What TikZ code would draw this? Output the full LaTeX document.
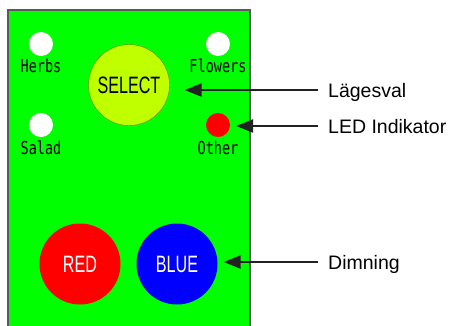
\documentclass[tikz,border=0pt]{standalone}
\usepackage{fontspec}
\setmainfont{Liberation Sans}
\newfontfamily\monofont[FakeStretch=0.76]{DejaVu Sans Mono}
\newfontfamily\narrowfont[FakeStretch=0.68]{Liberation Sans}
\usetikzlibrary{arrows.meta}
\definecolor{panelgreen}{RGB}{0,255,0}
\definecolor{paneledge}{RGB}{90,90,90}
\definecolor{selectyellow}{RGB}{191,255,0}
\definecolor{selectedge}{RGB}{110,130,0}
\definecolor{arrowgray}{RGB}{34,34,34}
\begin{document}
\begin{tikzpicture}[x=1pt,y=-1pt,
  led/.style={circle,fill=white,minimum size=24pt,inner sep=0pt},
  btn/.style={circle,minimum size=81pt,inner sep=0pt,font=\narrowfont\fontsize{23.7}{24}\selectfont},
  lbl/.style={font=\monofont\fontsize{17.8}{18}\selectfont,inner sep=0pt},
  note/.style={font=\fontsize{19.5}{20}\selectfont,anchor=west,inner sep=0pt,text height=14pt,text depth=0pt},
  arr/.style={draw=arrowgray,line width=2.5pt,-{Triangle[length=17pt,width=13pt]}}]
  \useasboundingbox (0,0) rectangle (450,325);
  \clip (0,0) rectangle (450,325);
  \draw[paneledge,line width=1.5pt,fill=panelgreen] (8,10) rectangle (250,340);
  \node (herbs) [led] at (41,44) {};
  \node (flowers) [led] at (218,44) {};
  \node (salad) [led] at (41,125) {};
  \node (other) [led,fill=red] at (218,125) {};
  \node (herbslbl) [lbl] at (41,66) {Herbs};
  \node (flowerslbl) [lbl] at (218,66) {Flowers};
  \node (saladlbl) [lbl] at (41,148) {Salad};
  \node (otherlbl) [lbl] at (218,148) {Other};
  \node (sel) [btn,fill=selectyellow,draw=selectedge,thin] at (129,85) {SELECT};
  \node (red) [btn,fill=red,text=white] at (80,264) {RED};
  \node (blue) [btn,fill=blue,text=white] at (177,264) {BLUE};
  \node (lages) [note] at (328,90) {Lägesval};
  \node (ledind) [note] at (328,126) {LED Indikator};
  \node (dimn) [note] at (328,262) {Dimning};
  \draw[arr,shorten <=10pt,shorten >=15pt] (lages.west) -- (sel.east |- lages.west);
  \draw[arr,shorten <=10pt,shorten >=6pt] (ledind.west) -- (other.east |- ledind.west);
  \draw[arr,shorten <=10pt,shorten >=6pt] (dimn.west) -- (blue.east |- dimn.west);
\end{tikzpicture}
\end{document}
